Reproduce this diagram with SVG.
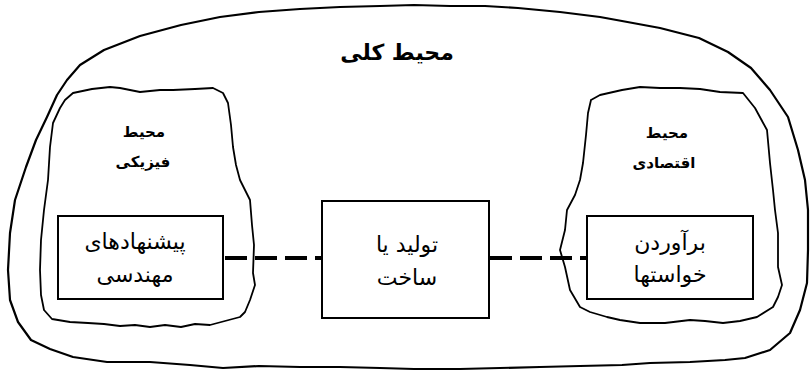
<svg xmlns="http://www.w3.org/2000/svg" width="812" height="374" viewBox="0 0 812 374">
<style>
.blob{fill:none;stroke:#000;stroke-width:1.8;stroke-linejoin:round;stroke-linecap:round}
.box{fill:#fff;stroke:#000;stroke-width:2}
.dash{stroke:#000;stroke-width:4;stroke-dasharray:22 8;fill:none}
text{font-family:"DejaVu Sans","Noto Sans",sans-serif;fill:#000;text-anchor:middle;direction:rtl}
.t1{font-size:22px;font-weight:bold}
.t2{font-size:15px;font-weight:bold}
.t3{font-size:22px}
</style>
<rect width="812" height="374" fill="#fff"/>
<g id="outer-env">
<polyline class="blob" points="67,80 80,65 104,50 140,36 181,25 220,17 259,12 300,9 340,7 380,6 414,5 450,6 485,6 518,8 560,12 600,17 622,21 660,28 699,38 728,52 751,68 770,90 788,117 798,150 805,180 808,210 808,250 807,283 800,310 790,333 770,350 745,358 725,360 690,362 650,363 622,365 580,366 540,367 500,368 460,369 414,369 380,368 340,367 300,367 259,366 223,368 190,365 150,362 107,362 73,357 50,349 31,340 18,322 10,300 8,270 10,233 15,200 26,167 36,140 47,117 57,95 67,80" style="stroke-width:2.2"/>
<text class="t1" x="397" y="60">محیط کلی</text>
</g>
<g id="physical-env">
<polyline class="blob" points="65,100 73,93 92,89 110,87 120,88 140,92 160,90 173,90 195,89 213,88 223,93 228,103 231,125 233,147 236,165 240,180 250,200 252,225 254,245 253,273 255,285 250,300 245,312 240,317 225,321 210,325 195,324 181,327 165,325 150,327 135,325 120,326 104,324 88,323 70,322 52,319 44,310 41,295 40,270 41,240 44,210 48,180 50,147 53,123 60,108 65,100"/>
<text class="t2" x="144" y="137">محیط</text>
<text class="t2" x="143" y="167">فیزیکی</text>
</g>
<g id="economic-env">
<polyline class="blob" points="591,100 600,95 622,90 640,87 660,88 680,88 700,89 720,92 743,93 755,108 767,130 770,163 773,190 775,210 778,233 778,267 782,285 778,297 773,307 757,317 740,321 723,323 705,321 690,320 665,323 640,323 620,320 607,317 590,312 580,307 570,290 565,267 560,250 565,230 567,210 575,195 580,180 583,163 586,135 588,113 591,100"/>
<text class="t2" x="667" y="138">محیط</text>
<text class="t2" x="664" y="168">اقتصادی</text>
</g>
<g id="connectors">
<line class="dash" x1="225" y1="258" x2="322" y2="258"/>
<line class="dash" x1="490" y1="258" x2="587" y2="258"/>
</g>
<g id="engineering-proposals">
<rect class="box" x="58" y="216" width="165" height="83"/>
<text class="t3" x="135" y="249">پیشنهادهای</text>
<text class="t3" x="135" y="282">مهندسی</text>
</g>
<g id="production">
<rect class="box" x="322" y="201" width="167" height="117"/>
<text class="t3" x="407" y="252">تولید یا</text>
<text class="t3" x="407" y="285">ساخت</text>
</g>
<g id="meeting-needs">
<rect class="box" x="587" y="216" width="166" height="83"/>
<text class="t3" x="670" y="250">برآوردن</text>
<text class="t3" x="670" y="282">خواستها</text>
</g>
</svg>
